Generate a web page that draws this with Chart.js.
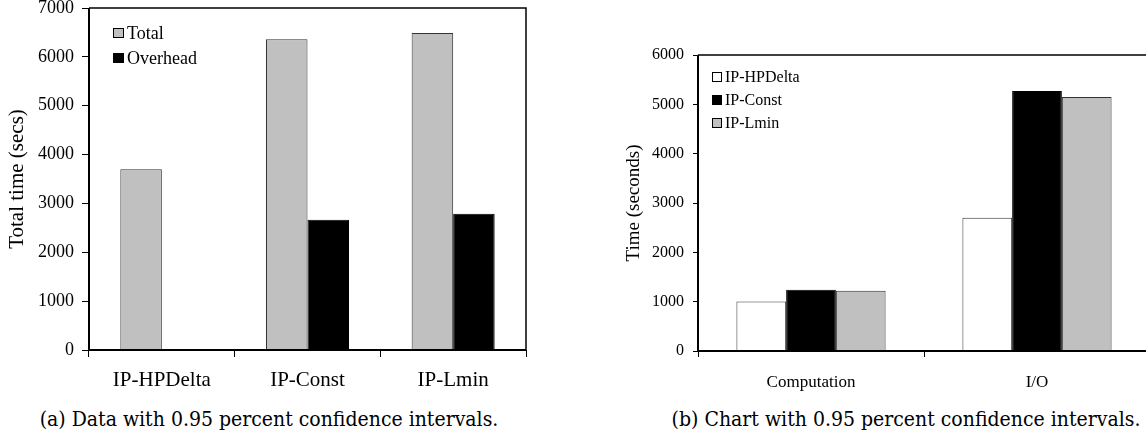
<!DOCTYPE html>
<html>
<head>
<meta charset="utf-8">
<script src="https://cdn.jsdelivr.net/npm/chart.js@4.4.1/dist/chart.umd.min.js"></script>
<style>
    html, body {
        margin: 0;
        padding: 0;
        width: 1146px;
        height: 442px;
        overflow: hidden;
        background: #fff;
    }
    .panel {
        position: absolute;
        top: 0;
        height: 400px;
    }
    #leftPanel { left: 0; width: 560px; }
    #rightPanel { left: 600px; width: 560px; }
    .caption {
        position: absolute;
        top: 407px;
        width: 600px;
        text-align: center;
        font-family: "DejaVu Serif Condensed", "DejaVu Serif", serif;
        font-stretch: condensed;
        font-size: 21px;
        color: #000;
        white-space: nowrap;
    }
</style>
</head>
<body>
<div class="panel" id="leftPanel"><canvas id="leftChart" width="560" height="400"></canvas></div>
<div class="panel" id="rightPanel"><canvas id="rightChart" width="560" height="400"></canvas></div>
<div class="caption" style="left: -31px;">(a) Data with 0.95 percent confidence intervals.</div>
<div class="caption" style="left: 606px;">(b) Chart with 0.95 percent confidence intervals.</div>

<script>
// Chart (a) data
const leftCategories = ['IP-HPDelta', 'IP-Const', 'IP-Lmin'];
const leftSeriesNames = ['Total', 'Overhead'];
const totalTimes = [3700, 6360, 6490];
const overheadTimes = [0, 2665, 2790];
const leftYTicks = [0, 1000, 2000, 3000, 4000, 5000, 6000, 7000];

// Chart (b) data
const rightCategories = ['Computation', 'I/O'];
const rightSeriesNames = ['IP-HPDelta', 'IP-Const', 'IP-Lmin'];
const hpDeltaTimes = [1005, 2700];
const constTimes = [1240, 5270];
const lminTimes = [1220, 5150];
const rightYTicks = [0, 1000, 2000, 3000, 4000, 5000, 6000];

const SERIF = 'Liberation Serif, Times New Roman, Times, serif';

Chart.defaults.color = '#000';
Chart.defaults.font.family = SERIF;
Chart.defaults.animation = false;

// Frame around the plot area (right side optional, chart b runs off the page)
const framePlugin = {
    id: 'frame',
    afterDraw(chart, args, opts) {
        const { ctx, chartArea } = chart;
        const { left, top, right, bottom } = chartArea;
        ctx.save();
        ctx.strokeStyle = '#000';
        ctx.lineWidth = 1.5;
        ctx.beginPath();
        ctx.moveTo(left, top);
        ctx.lineTo(opts.openRight ? chart.width : right, top);
        if (!opts.openRight) {
            ctx.lineTo(right, bottom);
        }
        ctx.stroke();
        ctx.lineWidth = 2;
        ctx.beginPath();
        ctx.moveTo(left, top);
        ctx.lineTo(left, bottom);
        ctx.lineTo(opts.openRight ? chart.width : right, bottom);
        ctx.stroke();
        ctx.restore();
    }
};

// Legend drawn inside the plot area
const boxLegendPlugin = {
    id: 'boxLegend',
    afterDraw(chart, args, opts) {
        const { ctx } = chart;
        ctx.save();
        ctx.font = opts.fontSize + 'px ' + SERIF;
        ctx.textBaseline = 'middle';
        ctx.textAlign = 'left';
        chart.data.datasets.forEach((ds, i) => {
            const y = opts.y + i * opts.gap;
            ctx.fillStyle = ds.backgroundColor;
            ctx.fillRect(opts.x, y, opts.boxW, opts.boxH);
            ctx.strokeStyle = '#000';
            ctx.lineWidth = 1;
            ctx.strokeRect(opts.x + 0.5, y + 0.5, opts.boxW - 1, opts.boxH - 1);
            ctx.fillStyle = '#000';
            ctx.fillText(ds.label, opts.x + opts.boxW + 3, y + opts.boxH / 2 + 1);
        });
        ctx.restore();
    }
};

function fixedWidth(w) {
    return function(scale) {
        scale.width = w;
        scale.paddingTop = 0;
        scale.paddingBottom = 0;
    };
}

function fixedHeight(h) {
    return function(scale) {
        scale.height = h;
        scale.paddingLeft = 0;
        scale.paddingRight = 0;
    };
}

const plainNumber = value => String(value);

// Chart (a)
new Chart(document.getElementById('leftChart'), {
    type: 'bar',
    data: {
        labels: leftCategories,
        datasets: [{
            label: leftSeriesNames[0],
            data: totalTimes,
            backgroundColor: '#c0c0c0',
            borderColor: '#333',
            borderWidth: 1
        }, {
            label: leftSeriesNames[1],
            data: overheadTimes,
            backgroundColor: '#000',
            borderColor: '#000',
            borderWidth: 1
        }]
    },
    options: {
        responsive: false,
        layout: { padding: { top: 8, right: 34, left: 0, bottom: 0 } },
        datasets: { bar: { categoryPercentage: 0.57, barPercentage: 1 } },
        scales: {
            x: {
                afterFit: fixedHeight(50),
                border: { display: false },
                grid: { offset: true, drawOnChartArea: false, tickLength: 7, tickColor: '#000', tickWidth: 1 },
                ticks: { font: { size: 21 }, padding: 11, maxRotation: 0 }
            },
            y: {
                min: leftYTicks[0],
                max: leftYTicks[leftYTicks.length - 1],
                afterFit: fixedWidth(89),
                afterBuildTicks(scale) {
                    scale.ticks = leftYTicks.map(v => ({ value: v }));
                },
                border: { display: false },
                grid: { drawOnChartArea: false, tickLength: 7, tickColor: '#000', tickWidth: 1 },
                ticks: { font: { size: 18 }, padding: 8, callback: plainNumber },
                title: { display: true, text: 'Total time (secs)', font: { size: 21 }, padding: { top: 5, bottom: 0 } }
            }
        },
        plugins: {
            legend: { display: false },
            tooltip: { enabled: false },
            frame: { openRight: false },
            boxLegend: { x: 113, y: 28, boxW: 11, boxH: 10, gap: 25, fontSize: 18 }
        }
    },
    plugins: [framePlugin, boxLegendPlugin]
});

// Chart (b)
new Chart(document.getElementById('rightChart'), {
    type: 'bar',
    data: {
        labels: rightCategories,
        datasets: [{
            label: rightSeriesNames[0],
            data: hpDeltaTimes,
            backgroundColor: '#fff',
            borderColor: '#333',
            borderWidth: 1
        }, {
            label: rightSeriesNames[1],
            data: constTimes,
            backgroundColor: '#000',
            borderColor: '#000',
            borderWidth: 1
        }, {
            label: rightSeriesNames[2],
            data: lminTimes,
            backgroundColor: '#c0c0c0',
            borderColor: '#333',
            borderWidth: 1
        }]
    },
    options: {
        responsive: false,
        layout: { padding: { top: 55, right: 10, left: 0, bottom: 0 } },
        datasets: { bar: { categoryPercentage: 0.66, barPercentage: 1 } },
        scales: {
            x: {
                afterFit: fixedHeight(49),
                border: { display: false },
                grid: { offset: true, drawOnChartArea: false, tickLength: 6, tickColor: '#000', tickWidth: 1 },
                ticks: { font: { size: 17 }, padding: 15, maxRotation: 0 }
            },
            y: {
                min: rightYTicks[0],
                max: rightYTicks[rightYTicks.length - 1],
                afterFit: fixedWidth(98),
                afterBuildTicks(scale) {
                    scale.ticks = rightYTicks.map(v => ({ value: v }));
                },
                border: { display: false },
                grid: { drawOnChartArea: false, tickLength: 5, tickColor: '#000', tickWidth: 1 },
                ticks: { font: { size: 16 }, padding: 9, callback: plainNumber },
                title: { display: true, text: 'Time (seconds)', font: { size: 19 }, padding: { top: 23, bottom: 0 } }
            }
        },
        plugins: {
            legend: { display: false },
            tooltip: { enabled: false },
            frame: { openRight: true },
            boxLegend: { x: 112, y: 72, boxW: 10, boxH: 10, gap: 23, fontSize: 16 }
        }
    },
    plugins: [framePlugin, boxLegendPlugin]
});
</script>
</body>
</html>
